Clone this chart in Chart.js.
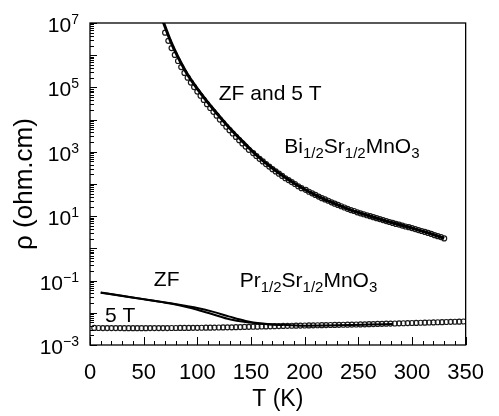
<!DOCTYPE html>
<html>
<head>
<meta charset="utf-8">
<script src="https://cdn.jsdelivr.net/npm/chart.js@4.4.1/dist/chart.umd.min.js"></script>
<style>
  html, body { margin: 0; padding: 0; background: #fff; }
</style>
</head>
<body>
<canvas id="myChart" width="499" height="416"></canvas>
<script>
// Bi1/2Sr1/2MnO3, ZF (solid line)
const biZfT = [66, 69, 75, 81, 90, 102, 114, 129, 144, 156, 168, 183, 198, 213, 228, 243, 261, 279, 300, 318, 330];
const biZfRho = [1.78e7, 9.3e6, 2.8e6, 1.02e6, 2.82e5, 7.4e4, 2.29e4, 6.0e3, 1.82e3, 741, 347, 151, 74, 40.7, 24.5, 15.5, 10.0, 6.61, 4.27, 2.82, 2.04];

// Bi1/2Sr1/2MnO3, 5 T (open circles, sitting just left of / under the ZF line)
const bi5T = [70, 73, 76, 79, 82, 85, 88, 91, 94, 97, 100, 103, 106, 109, 112, 115, 118, 121, 124, 127,
  130, 133, 136, 139, 142, 145, 148, 152, 155, 158, 161, 164, 167, 170, 173, 176, 179, 182, 185, 188,
  191, 194, 197, 201, 204, 207, 210, 213, 216, 219, 222, 225, 228, 231, 234, 237, 240, 243, 246, 249,
  252, 255, 258, 261, 264, 267, 270, 273, 276, 279, 282, 285, 288, 291, 294, 297, 300, 303, 306, 309,
  312, 315, 318, 321, 324, 327, 330];
const bi5TRho = [5.0e6, 2.8e6, 1.66e6, 1.02e6, 6.6e5, 4.27e5, 2.82e5, 2.0e5, 1.41e5, 1.02e5, 7.4e4, 5.5e4, 4.07e4, 3.02e4, 2.29e4, 1.74e4, 1.32e4, 1.0e4, 7.8e3, 6.0e3,
  4.7e3, 3.7e3, 2.9e3, 2.3e3, 1.82e3, 1.45e3, 1.15e3, 912, 741, 603, 501, 417, 347, 288, 245, 209, 178, 151, 132, 115,
  100, 85, 74, 66, 57.5, 51.3, 45.7, 40.7, 36.3, 33.1, 30.2, 26.9, 24.5, 22.4, 20.4, 18.6, 17.0, 15.5, 14.5, 13.2,
  12.3, 11.5, 10.7, 10.0, 9.33, 8.71, 8.13, 7.59, 7.08, 6.61, 6.17, 5.75, 5.50, 5.13, 4.79, 4.57, 4.27, 3.98, 3.72, 3.47,
  3.24, 3.02, 2.82, 2.57, 2.40, 2.24, 2.04];

// Pr1/2Sr1/2MnO3, ZF (two solid lines)
const prZfT1 = [10, 30, 50, 75, 90, 100, 115, 130, 145, 160, 180, 200, 230, 260, 282];
const prZfRho1 = [0.0427, 0.0337, 0.0266, 0.0197, 0.0162, 0.0141, 0.0107, 7.6e-3, 5.6e-3, 4.68e-3, 4.22e-3, 3.98e-3, 4.08e-3, 4.3e-3, 4.5e-3];
const prZfT2 = [10, 30, 50, 75, 90, 100, 115, 130, 145, 160, 180];
const prZfRho2 = [0.0422, 0.0334, 0.0264, 0.0193, 0.0151, 0.01245, 8.9e-3, 6.3e-3, 5.13e-3, 4.57e-3, 4.17e-3];

// Pr1/2Sr1/2MnO3, 5 T (open circles)
const pr5T = [4, 8, 12, 16, 20, 24, 28, 32, 36, 40, 44, 48, 52, 56, 60, 64, 68, 72, 76, 80,
  84, 88, 92, 96, 100, 104, 108, 112, 116, 120, 124, 128, 132, 136, 140, 144, 148, 152, 156, 160,
  164, 168, 172, 176, 180, 184, 188, 192, 196, 200, 204, 208, 212, 216, 220, 224, 228, 232, 236, 240,
  244, 248, 252, 256, 260, 264, 268, 272, 276, 280, 284, 288, 292, 296, 300, 304, 308, 312, 316, 320,
  324, 328, 332, 336, 340, 344, 348];
const pr5TRho = [3.38e-3, 3.37e-3, 3.36e-3, 3.36e-3, 3.35e-3, 3.35e-3, 3.35e-3, 3.34e-3, 3.34e-3, 3.34e-3,
  3.34e-3, 3.34e-3, 3.34e-3, 3.35e-3, 3.35e-3, 3.35e-3, 3.36e-3, 3.36e-3, 3.37e-3, 3.37e-3,
  3.38e-3, 3.39e-3, 3.40e-3, 3.41e-3, 3.42e-3, 3.43e-3, 3.44e-3, 3.45e-3, 3.47e-3, 3.49e-3,
  3.51e-3, 3.53e-3, 3.55e-3, 3.58e-3, 3.60e-3, 3.63e-3, 3.66e-3, 3.69e-3, 3.72e-3, 3.75e-3,
  3.78e-3, 3.81e-3, 3.84e-3, 3.87e-3, 3.90e-3, 3.93e-3, 3.96e-3, 3.98e-3, 4.01e-3, 4.03e-3,
  4.05e-3, 4.08e-3, 4.10e-3, 4.13e-3, 4.15e-3, 4.18e-3, 4.20e-3, 4.22e-3, 4.25e-3, 4.27e-3,
  4.30e-3, 4.33e-3, 4.36e-3, 4.39e-3, 4.42e-3, 4.46e-3, 4.50e-3, 4.54e-3, 4.58e-3, 4.62e-3,
  4.66e-3, 4.70e-3, 4.74e-3, 4.78e-3, 4.82e-3, 4.86e-3, 4.91e-3, 4.95e-3, 5.00e-3, 5.04e-3,
  5.09e-3, 5.13e-3, 5.18e-3, 5.23e-3, 5.27e-3, 5.32e-3, 5.37e-3];

// axis ticks
const xTicks = [0, 50, 100, 150, 200, 250, 300, 350];
const yDecades = [7, 5, 3, 1, -1, -3];

const FONT = "'Liberation Sans', Arial, Helvetica, sans-serif";

const pts = (xs, ys) => xs.map((x, i) => ({ x: x, y: ys[i] }));

// text inside the plot, anchored in data units; parts flagged 1 are subscripts
const notes = [
  { x: 120, y: 4.06e4, parts: [['ZF and 5 T', 0]] },
  { x: 181, y: 919, parts: [['Bi', 0], ['1/2', 1], ['Sr', 0], ['1/2', 1], ['MnO', 0], ['3', 1]] },
  { x: 59.5, y: 0.068, parts: [['ZF', 0]] },
  { x: 139.5, y: 0.063, parts: [['Pr', 0], ['1/2', 1], ['Sr', 0], ['1/2', 1], ['MnO', 0], ['3', 1]] },
  { x: 14, y: 5.18e-3, parts: [['5 T', 0]] },
];

const decor = {
  id: 'decor',
  afterDatasetsDraw(chart) {
    const { ctx, chartArea: a, scales: { x, y } } = chart;
    ctx.save();
    ctx.strokeStyle = '#000';
    ctx.fillStyle = '#000';

    // frame
    ctx.lineWidth = 1.3;
    ctx.strokeRect(a.left, a.top, a.right - a.left, a.bottom - a.top);

    // inward ticks, left axis (log, minor at 2..9)
    ctx.lineWidth = 1;
    ctx.beginPath();
    for (let d = -3; d <= 7; d++) {
      for (let k = 1; k <= 9; k++) {
        const v = k * Math.pow(10, d);
        if (v > 1e7 * 1.0001) break;
        const py = Math.round(y.getPixelForValue(v)) + 0.5;
        const len = k === 1 ? 7 : 4;
        ctx.moveTo(a.left, py);
        ctx.lineTo(a.left + len, py);
      }
    }
    // inward ticks, bottom axis, every 10 K
    for (let t = 0; t <= 350; t += 10) {
      const px = Math.round(x.getPixelForValue(t)) + 0.5;
      const len = t % 50 === 0 ? 8 : 4;
      ctx.moveTo(px, a.bottom);
      ctx.lineTo(px, a.bottom - len);
    }
    ctx.stroke();

    // y tick labels 10^n
    ctx.textBaseline = 'alphabetic';
    yDecades.forEach(d => {
      const py = y.getPixelForValue(Math.pow(10, d));
      const exp = String(d).replace('-', '\u2212');
      ctx.font = '14px ' + FONT;
      const ew = ctx.measureText(exp).width;
      ctx.font = '21px ' + FONT;
      const bw = ctx.measureText('10').width;
      const right = a.left - 11;
      ctx.fillText('10', right - ew - bw, py + 9);
      ctx.font = '14px ' + FONT;
      ctx.fillText(exp, right - ew, py + 1);
    });

    // annotations
    notes.forEach(n => {
      let px = x.getPixelForValue(n.x);
      const py = y.getPixelForValue(n.y);
      n.parts.forEach(([txt, sub]) => {
        ctx.font = (sub ? '15px ' : '21px ') + FONT;
        ctx.fillText(txt, px, sub ? py + 5 : py);
        px += ctx.measureText(txt).width;
      });
    });
    ctx.restore();
  }
};

const lineDs = (label, data, width) => ({
  label, data, showLine: true, borderColor: '#000', borderWidth: width,
  pointRadius: 0, cubicInterpolationMode: 'monotone', clip: 0, order: 0
});
const circleDs = (label, data) => ({
  label, data, showLine: false, pointRadius: 2.5, pointBorderWidth: 1.2,
  pointBorderColor: '#1a1a1a', pointBackgroundColor: 'rgba(0,0,0,0)', order: 1
});

const ctx = document.getElementById('myChart').getContext('2d');
new Chart(ctx, {
  type: 'scatter',
  data: {
    datasets: [
      lineDs('Bi ZF', pts(biZfT, biZfRho), 3),
      lineDs('Pr ZF', pts(prZfT1, prZfRho1), 2),
      lineDs('Pr ZF (2)', pts(prZfT2, prZfRho2), 2),
      circleDs('Bi 5 T', pts(bi5T, bi5TRho)),
      circleDs('Pr 5 T', pts(pr5T, pr5TRho)),
    ]
  },
  options: {
    responsive: false,
    animation: false,
    devicePixelRatio: 1,
    layout: { padding: { top: 23, right: 20, bottom: 0, left: 0 } },
    plugins: { legend: { display: false }, tooltip: { enabled: false } },
    scales: {
      x: {
        type: 'linear', min: 0, max: 350,
        grid: { display: false, drawTicks: false },
        border: { display: false },
        ticks: {
          stepSize: 50, padding: 15, maxRotation: 0, color: '#000',
          font: { family: FONT, size: 22 },
          callback: v => xTicks.includes(v) ? String(v) : ''
        },
        title: {
          display: true, text: 'T (K)', color: '#000',
          font: { family: FONT, size: 23 }, padding: { top: 0, bottom: 3 }
        },
        afterFit: s => { s.height = 71; }
      },
      y: {
        type: 'logarithmic', min: 1e-3, max: 1e7,
        grid: { display: false, drawTicks: false },
        border: { display: false },
        ticks: { display: false },
        title: {
          display: true, text: 'ρ (ohm.cm)', color: '#000',
          font: { family: FONT, size: 26 }, padding: { top: 9, bottom: 0 }
        },
        afterFit: s => { s.width = 90; }
      }
    }
  },
  plugins: [decor]
});
</script>
</body>
</html>
